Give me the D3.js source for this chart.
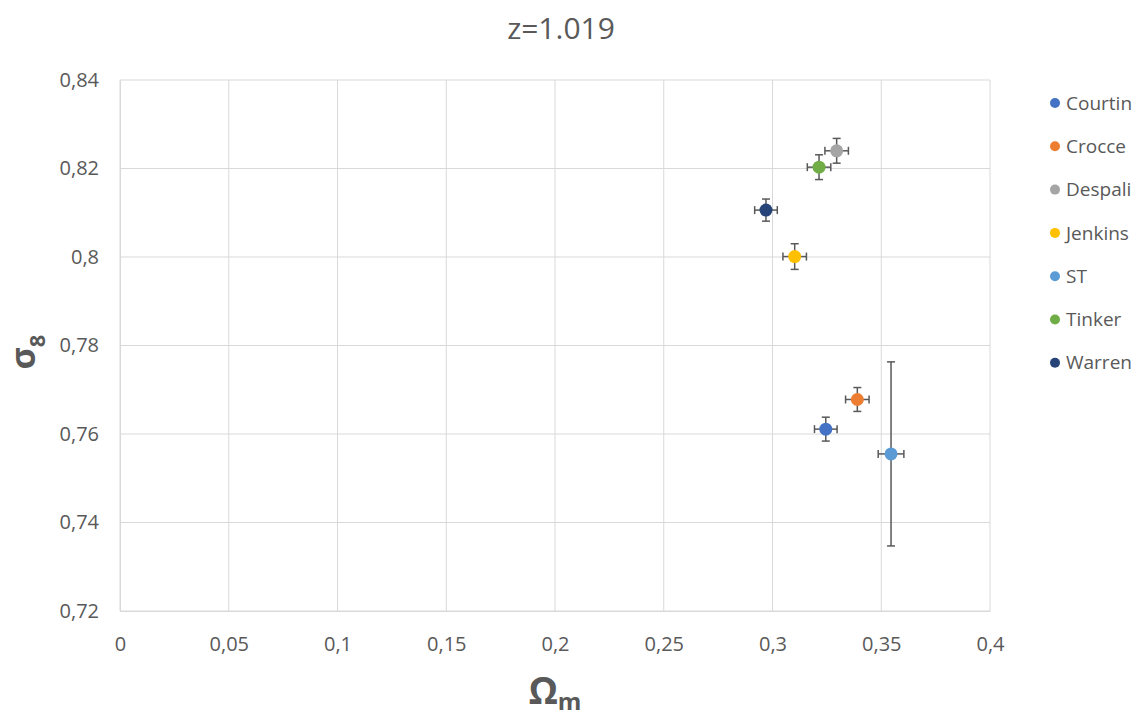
<!DOCTYPE html>
<html><head><meta charset="utf-8">
<script src="https://cdn.jsdelivr.net/npm/d3@7"></script>
<style>body{margin:0;background:#fff;} svg{display:block;font-family:"Open Sans",sans-serif;}</style>
</head><body>
<svg id="c" width="1145" height="720"></svg>
<script>
const names = ["Courtin","Crocce","Despali","Jenkins","ST","Tinker","Warren"];
const omegaM = [0.3245,0.3390,0.3295,0.3102,0.3545,0.3214,0.2970];
const sigma8 = [0.7611,0.7678,0.8240,0.8001,0.7555,0.8203,0.8106];
const errOmega = [0.0052,0.0054,0.0054,0.0054,0.0059,0.0054,0.0052];
const errSigma = [0.0027,0.0027,0.0028,0.0029,0.0208,0.0028,0.0025];
const colors = ["#4472C4","#ED7D31","#A5A5A5","#FFC000","#5B9BD5","#70AD47","#264478"];
const xTicks = [0,0.05,0.1,0.15,0.2,0.25,0.3,0.35,0.4];
const yTicks = [0.72,0.74,0.76,0.78,0.8,0.82,0.84];

const svg = d3.select("#c");
const L=120,R=990,T=80,B=611;
const x = d3.scaleLinear().domain([0,0.4]).range([L,R]);
const y = d3.scaleLinear().domain([0.72,0.84]).range([B,T]);
const fmt = v => String(+v.toFixed(3)).replace(".",",");

// grid
svg.append("g").selectAll("line").data(xTicks).join("line")
  .attr("x1",d=>x(d)).attr("x2",d=>x(d)).attr("y1",T).attr("y2",B)
  .attr("stroke","#d9d9d9").attr("stroke-width",1);
svg.append("g").selectAll("line").data(yTicks).join("line")
  .attr("x1",L).attr("x2",R).attr("y1",d=>y(d)).attr("y2",d=>y(d))
  .attr("stroke","#d9d9d9").attr("stroke-width",1);

// axes via d3
const xAxis = svg.append("g").attr("transform",`translate(0,${B})`)
  .call(d3.axisBottom(x).tickValues(xTicks).tickFormat(fmt).tickSize(0).tickPadding(26));
const yAxis = svg.append("g").attr("transform",`translate(${L},0)`)
  .call(d3.axisLeft(y).tickValues(yTicks).tickFormat(fmt).tickSize(0).tickPadding(21));
[xAxis,yAxis].forEach(a=>{
  a.select(".domain").attr("stroke","#d9d9d9");
  a.selectAll("text").attr("fill","#595959").style("font-size","20px").style("font-family","'Open Sans',sans-serif");
});

// error bars
const data = names.map((n,i)=>({n,x:omegaM[i],y:sigma8[i],ex:errOmega[i],ey:errSigma[i],c:colors[i]}));
const eb = svg.append("g").attr("stroke","#595959").attr("stroke-width",1.5).attr("fill","none");
data.forEach(d=>{
  const cx=x(d.x), cy=y(d.y);
  const x0=x(d.x-d.ex), x1=x(d.x+d.ex), y0=y(d.y+d.ey), y1=y(d.y-d.ey);
  eb.append("line").attr("x1",x0).attr("x2",x1).attr("y1",cy).attr("y2",cy);
  eb.append("line").attr("x1",x0).attr("x2",x0).attr("y1",cy-4).attr("y2",cy+4);
  eb.append("line").attr("x1",x1).attr("x2",x1).attr("y1",cy-4).attr("y2",cy+4);
  eb.append("line").attr("x1",cx).attr("x2",cx).attr("y1",y0).attr("y2",y1);
  eb.append("line").attr("x1",cx-4).attr("x2",cx+4).attr("y1",y0).attr("y2",y0);
  eb.append("line").attr("x1",cx-4).attr("x2",cx+4).attr("y1",y1).attr("y2",y1);
});
svg.append("g").selectAll("circle").data(data).join("circle")
  .attr("cx",d=>x(d.x)).attr("cy",d=>y(d.y)).attr("r",6.5).attr("fill",d=>d.c);

// title
svg.append("text").attr("x",561).attr("y",39).attr("text-anchor","middle")
  .attr("fill","#595959").style("font-size","30px").text("z=1.019");

// x title
const xt = svg.append("text").attr("x",555).attr("y",704).attr("text-anchor","middle")
  .attr("fill","#595959").style("font-weight","bold");
xt.append("tspan").style("font-size","37px").text("Ω");
xt.append("tspan").style("font-size","24px").attr("dy",6).text("m");

// y title
const yt = svg.append("text").attr("transform","translate(35,352) rotate(-90)").attr("text-anchor","middle")
  .attr("fill","#595959").style("font-weight","bold");
yt.append("tspan").style("font-size","34px").text("σ");
yt.append("tspan").style("font-size","22px").attr("dy",10).text("8");

// legend
const lg = svg.append("g");
data.forEach((d,i)=>{
  const ly = 103 + i*43.3;
  lg.append("circle").attr("cx",1055).attr("cy",ly).attr("r",5).attr("fill",d.c);
  lg.append("text").attr("x",1066).attr("y",ly).attr("dy","0.35em")
    .attr("fill","#595959").style("font-size","19px").text(d.n);
});
</script>
</body></html>
